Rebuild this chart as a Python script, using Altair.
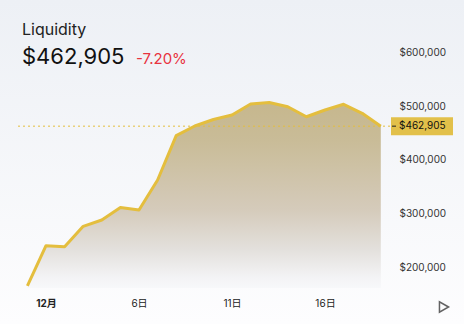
import altair as alt
import pandas as pd

# Daily liquidity, Nov 30 (day 0) through Dec 19
days = list(range(0, 20))
liquidity = [165000, 239800, 237900, 276000, 287800, 311100, 306400, 362400,
             445100, 463200, 475300, 483700, 504300, 507000, 499200, 480500,
             493100, 503700, 486900, 462905]
current_value = 462905
change_text = "-7.20%"
tick_days = [1, 6, 11, 16]
y_ticks = [200000, 300000, 400000, 500000, 600000]
Y_MIN, Y_MAX = 160850, 698360

df = pd.DataFrame({"day": days, "value": liquidity})
cur = pd.DataFrame({"value": [current_value]})
one = pd.DataFrame({"k": [0]})

FONT = "Inter, 'Noto Sans CJK SC', sans-serif"
GOLD = "#e4be3e"

x_scale = alt.Scale(domain=[-1.4731, 19.602], nice=False, zero=False)
y_scale = alt.Scale(domain=[Y_MIN, Y_MAX], nice=False, zero=False)

bg = alt.Chart(one).mark_rect(
    color=alt.Gradient(
        gradient="linear",
        stops=[alt.GradientStop(color="#edf0f5", offset=0),
               alt.GradientStop(color="#fdfdfe", offset=1)],
        x1=0, x2=0, y1=0, y2=1,
    )
).encode(x=alt.value(0), x2=alt.value(464), y=alt.value(0), y2=alt.value(324))

x_enc = alt.X("day:Q", scale=x_scale, axis=alt.Axis(
    values=tick_days, title=None, domain=False, ticks=False, tickSize=0, grid=False,
    zindex=1,
    labelExpr="datum.value == 1 ? '12月' : datum.value + '日'",
    labelFont=FONT, labelFontSize=10, labelColor="#222", labelPadding=10,
    labelFontWeight={"condition": {"test": "datum.value == 1", "value": "bold"}, "value": "normal"},
))
y_enc = alt.Y("value:Q", scale=y_scale, axis=alt.Axis(
    orient="right", values=y_ticks, title=None, domain=False, ticks=False, tickSize=0,
    grid=False, zindex=1, labelExpr="'$' + format(datum.value, ',')",
    labelFont=FONT, labelFontSize=10, labelColor="#333", labelPadding=7,
    labelAlign="left",
))

# area filled down to the bottom of the value scale, fading out towards it
area = alt.Chart(df).mark_area(
    clip=True,
    color=alt.Gradient(
        gradient="linear",
        stops=[alt.GradientStop(color="#c6b78d", offset=0),
               alt.GradientStop(color="#c9bc98", offset=0.21),
               alt.GradientStop(color="#d5cbbb", offset=0.58),
               alt.GradientStop(color="#e3e0dc", offset=0.79),
               alt.GradientStop(color="#f4f4f6", offset=0.95),
               alt.GradientStop(color="#f7f8fa", offset=1)],
        x1=0, x2=0, y1=0, y2=1,
    ),
).encode(x=x_enc, y=y_enc, y2=alt.datum(Y_MIN))

line = alt.Chart(df).mark_line(clip=True, color=GOLD, strokeWidth=3,
                               strokeJoin="round").encode(
    x=alt.X("day:Q", scale=x_scale), y=alt.Y("value:Q", scale=y_scale))

dotted = alt.Chart(cur).mark_rule(color=GOLD, strokeWidth=1, strokeDash=[2, 3]).encode(
    y=alt.Y("value:Q", scale=y_scale), x=alt.value(18), x2=alt.value(391))

box = alt.Chart(cur).mark_rule(color="#e2c04a", strokeWidth=18, strokeCap="butt").encode(
    y=alt.Y("value:Q", scale=y_scale), x=alt.value(391), x2=alt.value(453))

dash = alt.Chart(cur).mark_rule(color="#222", strokeWidth=1).encode(
    y=alt.Y("value:Q", scale=y_scale), x=alt.value(392), x2=alt.value(396))

box_text = alt.Chart(cur).mark_text(
    align="left", baseline="middle", font=FONT, fontSize=10, color="#111"
).encode(
    y=alt.Y("value:Q", scale=y_scale), x=alt.value(399),
    text=alt.Text("value:Q", format="$,.0f"))

title = alt.Chart(one).mark_text(
    text="Liquidity", align="left", baseline="alphabetic", font=FONT,
    fontSize=16, color="#222").encode(x=alt.value(22), y=alt.value(35))

big = alt.Chart(cur).mark_text(
    align="left", baseline="alphabetic", font=FONT, fontSize=22, color="#111"
).encode(x=alt.value(22), y=alt.value(64),
         text=alt.Text("value:Q", format="$,.0f"))

change = alt.Chart(one).mark_text(
    text=change_text, align="left", baseline="alphabetic", font=FONT,
    fontSize=15, color="#e8333f").encode(x=alt.value(136), y=alt.value(64))

play = alt.Chart(one).mark_point(
    shape="triangle-right", filled=False, stroke="#222", strokeWidth=1.5, size=110
).encode(x=alt.value(444), y=alt.value(307))

chart = alt.layer(bg, area, line, dotted, box, dash, box_text, title, big, change, play).properties(
    width=392, height=288,
    padding={"left": 0, "top": 0, "right": 72, "bottom": 36},
    autosize=alt.AutoSizeParams(type="none"),
    background="#ffffff",
).configure_view(stroke=None)

chart.save("out.html", embed_options={"renderer": "svg", "actions": False})
